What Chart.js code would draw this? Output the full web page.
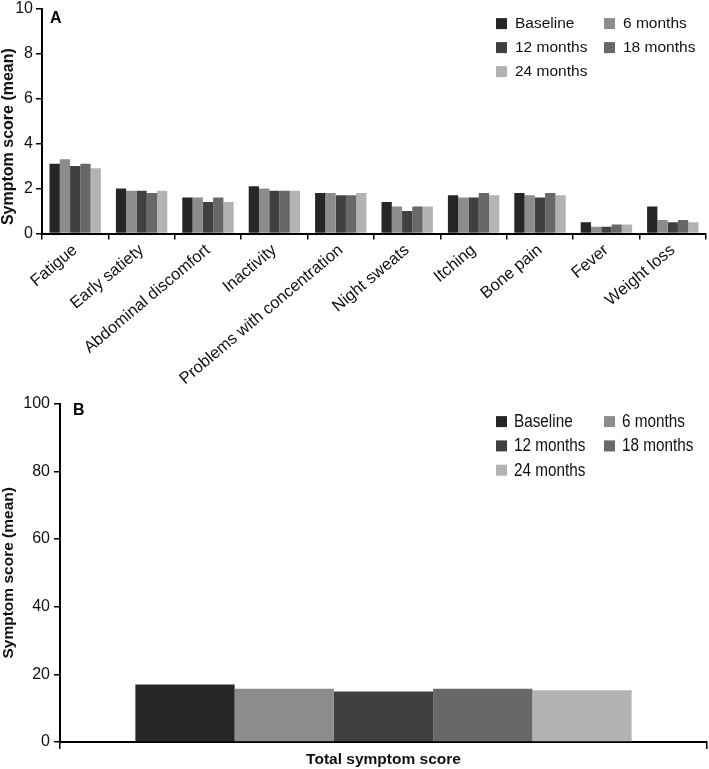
<!DOCTYPE html>
<html><head><meta charset="utf-8">
<script src="https://cdn.jsdelivr.net/npm/chart.js@4.4.1/dist/chart.umd.min.js"></script>
<style>
html,body{margin:0;padding:0;background:#fff;width:709px;height:769px;overflow:hidden;}
#wa{position:absolute;left:0;top:-4px;width:709px;height:395px;}
#wb{position:absolute;left:0;top:390px;width:709px;height:379px;}
</style></head><body>
<div id="wa"><canvas id="ca"></canvas></div>
<div id="wb"><canvas id="cb"></canvas></div>
<script>
// ---- data ----
const categories = ['Fatigue','Early satiety','Abdominal discomfort','Inactivity','Problems with concentration','Night sweats','Itching','Bone pain','Fever','Weight loss'];
const seriesNames = ['Baseline','6 months','12 months','18 months','24 months'];
const baseline = [3.1, 2.0, 1.6, 2.1, 1.8, 1.4, 1.7, 1.8, 0.5, 1.2];
const months6  = [3.3, 1.9, 1.6, 2.0, 1.8, 1.2, 1.6, 1.7, 0.3, 0.6];
const months12 = [3.0, 1.9, 1.4, 1.9, 1.7, 1.0, 1.6, 1.6, 0.3, 0.5];
const months18 = [3.1, 1.8, 1.6, 1.9, 1.7, 1.2, 1.8, 1.8, 0.4, 0.6];
const months24 = [2.9, 1.9, 1.4, 1.9, 1.8, 1.2, 1.7, 1.7, 0.4, 0.5];
const totalCategory = ['Total symptom score'];
const totalScores = [17.0, 15.7, 14.9, 15.7, 15.3]; // Baseline, 6, 12, 18, 24 months
const yTicksA = [0, 2, 4, 6, 8, 10];
const yTicksB = [0, 20, 40, 60, 80, 100];
const yTitle = 'Symptom score (mean)';
const colors = ['#262626', '#8c8c8c', '#404040', '#686868', '#b3b3b3'];

const FAM = '"Liberation Sans", Arial, sans-serif';
Chart.defaults.font.family = FAM;
Chart.defaults.color = '#111';

const gridLegend = {
  id: 'gridLegend',
  afterDraw(chart, args, o) {
    const ctx = chart.ctx, ca = chart.chartArea;
    ctx.save();
    ctx.textBaseline = 'middle'; ctx.textAlign = 'left';
    ctx.fillStyle = '#000';
    ctx.font = o.letterFont;
    ctx.fillText(o.letter, ca.left + o.letterDx, ca.top + o.letterDy);
    if (o.title) {
      ctx.save();
      ctx.font = o.titleFont; ctx.textAlign = 'center'; ctx.fillStyle = '#111';
      ctx.translate(o.titleX, ca.top + o.titleDy);
      ctx.rotate(-Math.PI / 2);
      ctx.fillText(o.title, 0, 0);
      ctx.restore();
    }
    ctx.font = o.font;
    chart.data.datasets.forEach((ds, i) => {
      const r = Math.floor(i / 2), c = i % 2;
      const x = ca.right - o.dx[c];
      const y = ca.top + o.rowY0 + r * o.rowGap;
      ctx.fillStyle = ds.backgroundColor;
      ctx.fillRect(x, y - o.box / 2, o.box, o.box);
      ctx.fillStyle = '#111';
      ctx.save();
      ctx.translate(x + o.textDx, y + 0.5);
      ctx.scale(o.squeeze, 1);
      ctx.fillText(ds.label, 0, 0);
      ctx.restore();
    });
    ctx.restore();
  }
};

function axisGrid(len) {
  return { display: true, drawOnChartArea: false, drawTicks: true, tickLength: len, color: '#000', lineWidth: 1.5 };
}

// ---- Panel A ----
const seriesA = [baseline, months6, months12, months18, months24];
new Chart(document.getElementById('ca'), {
  type: 'bar',
  data: {
    labels: categories,
    datasets: seriesNames.map((n, i) => ({
      label: n, data: seriesA[i], backgroundColor: colors[i], borderWidth: 0,
      categoryPercentage: 0.774, barPercentage: 1.0
    }))
  },
  options: {
    responsive: true, maintainAspectRatio: false, animation: false,
    layout: { padding: { top: 10, right: 3, left: 0, bottom: 0 } },
    plugins: {
      legend: { display: false }, tooltip: { enabled: false },
      gridLegend: { letter: 'A', letterFont: 'bold 16px ' + FAM, letterDx: 8, letterDy: 10,
        title: yTitle, titleFont: 'bold 16px ' + FAM, titleX: 9, titleDy: 128,
        font: '15.5px ' + FAM, dx: [210, 102], rowY0: 15, rowGap: 24, box: 11, textDx: 19, squeeze: 1 }
    },
    scales: {
      x: {
        grid: Object.assign(axisGrid(6), { offset: true }),
        border: { display: true, color: '#000', width: 2 },
        ticks: { font: { size: 16.5 }, color: '#111', maxRotation: 40, minRotation: 40, autoSkip: false, padding: 1 },
        afterFit(s) { s.height = 157.5; }
      },
      y: {
        min: 0, max: 10,
        afterBuildTicks(s) { s.ticks = yTicksA.map(v => ({ value: v })); },
        grid: axisGrid(6),
        border: { display: true, color: '#000', width: 2 },
        ticks: { font: { size: 16 }, color: '#111', padding: 3 },
        afterFit(s) { s.width = 42; }
      }
    }
  },
  plugins: [gridLegend]
});

// ---- Panel B ----
new Chart(document.getElementById('cb'), {
  type: 'bar',
  data: {
    labels: totalCategory,
    datasets: seriesNames.map((n, i) => ({
      label: n, data: [totalScores[i]], backgroundColor: colors[i], borderWidth: 0,
      categoryPercentage: 0.767, barPercentage: 1.0
    }))
  },
  options: {
    responsive: true, maintainAspectRatio: false, animation: false,
    layout: { padding: { top: 11, right: 2, left: 0, bottom: 0 } },
    plugins: {
      legend: { display: false }, tooltip: { enabled: false },
      gridLegend: { letter: 'B', letterFont: 'bold 16px ' + FAM, letterDx: 13, letterDy: 7,
        font: '18px ' + FAM, dx: [211, 103], rowY0: 18, rowGap: 24.3, box: 11, textDx: 18, squeeze: 0.85 }
    },
    scales: {
      x: {
        grid: Object.assign(axisGrid(7), { offset: true }),
        border: { display: true, color: '#000', width: 2 },
        ticks: { font: { size: 15.5, weight: 'bold' }, color: '#111', padding: 1 },
        afterFit(s) { s.height = 27; }
      },
      y: {
        min: 0, max: 100,
        afterBuildTicks(s) { s.ticks = yTicksB.map(v => ({ value: v })); },
        grid: axisGrid(6),
        border: { display: true, color: '#000', width: 2 },
        ticks: { font: { size: 16 }, color: '#111', padding: 4 },
        title: { display: true, text: yTitle, font: { size: 15.5, weight: 'bold', lineHeight: 1 }, color: '#111', padding: { top: 1, bottom: 0 } },
        afterFit(s) { s.width = 60; }
      }
    }
  },
  plugins: [gridLegend]
});
</script>
</body></html>
